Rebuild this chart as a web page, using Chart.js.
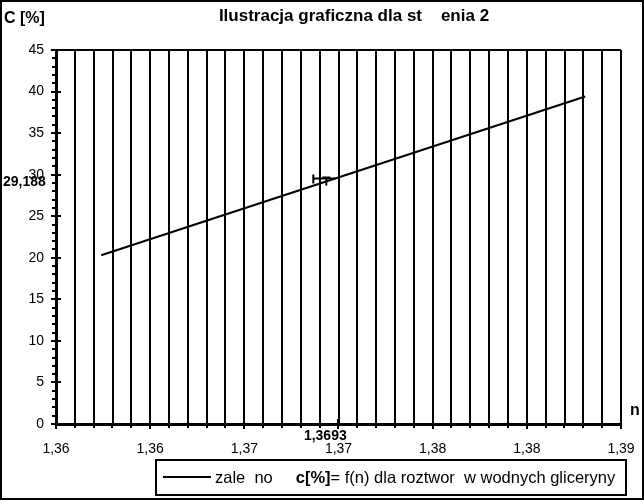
<!DOCTYPE html>
<html>
<head>
<meta charset="utf-8">
<script src="https://cdn.jsdelivr.net/npm/chart.js@4.4.0/dist/chart.umd.min.js"></script>
<style>
  body { margin: 0; background: #fff; }
  canvas { display: block; }
</style>
</head>
<body>
<canvas id="myChart" width="644" height="500"></canvas>
<script>
// dane
var nLine = [1.3574, 1.3831];
var cLine = [20.3, 39.4];
var markerN = [1.3693];
var markerC = [29.188];
var yTicks = [0, 5, 10, 15, 20, 25, 30, 35, 40, 45];
var titleText = 'Ilustracja graficzna dla st    enia 2';
var legendParts = [
	['zale  no     ', false],
	['c[%]', true],
	['= f(n) dla roztwor  w wodnych gliceryny', false]
];

var FONT = '"Liberation Sans", Arial, sans-serif';

function fmtN(v) {
	return (Math.round(v * 100 + 1e-6) / 100).toFixed(2).replace('.', ',');
}

// rysowanie dodatkow: tytul, osie, znaczniki, legenda
var extras = {
	id: 'extras',
	afterDraw: function(chart) {
		var ctx = chart.ctx;
		var x = chart.scales.x, y = chart.scales.y;
		var area = chart.chartArea;
		ctx.save();
		ctx.strokeStyle = '#000';
		ctx.fillStyle = '#000';

		// gorna ramka
		ctx.lineWidth = 2;
		ctx.beginPath();
		ctx.moveTo(area.left, area.top);
		ctx.lineTo(area.right, area.top);
		ctx.stroke();

		// znaczniki osi Y
		for (var v = 0; v <= 45; v++) {
			var py = Math.round(y.getPixelForValue(v));
			ctx.beginPath();
			if (v % 5 === 0) {
				ctx.moveTo(area.left - 5, py);
				ctx.lineTo(area.left + 5, py);
			} else {
				ctx.moveTo(area.left - 4, py);
				ctx.lineTo(area.left, py);
			}
			ctx.stroke();
		}
		// znaczniki osi X
		for (var i = 0; i <= 30; i++) {
			var px = Math.round(x.getPixelForValue(1.355 + i * 0.001));
			ctx.beginPath();
			if (i % 5 === 0) {
				ctx.moveTo(px, area.bottom - 5);
				ctx.lineTo(px, area.bottom + 5);
			} else {
				ctx.moveTo(px, area.bottom);
				ctx.lineTo(px, area.bottom + 4);
			}
			ctx.stroke();
		}

		// punkt (1,3693 ; 29,188)
		var mx = x.getPixelForValue(markerN[0]);
		var my = y.getPixelForValue(markerC[0]);
		ctx.beginPath();
		ctx.moveTo(mx - 12, my - 3); ctx.lineTo(mx + 10, my - 3);
		ctx.moveTo(mx - 12, my - 7); ctx.lineTo(mx - 12, my + 2);
		ctx.moveTo(mx - 3, my - 4); ctx.lineTo(mx + 5, my - 4);
		ctx.moveTo(mx + 1, my - 4); ctx.lineTo(mx + 1, my + 4);
		ctx.stroke();

		// etykiety punktu
		ctx.font = 'bold 14px ' + FONT;
		ctx.textBaseline = 'middle';
		ctx.textAlign = 'left';
		ctx.fillText(String(markerC[0]).replace('.', ','), 3, my + 1);
		ctx.textAlign = 'center';
		ctx.fillText(String(markerN[0]).replace('.', ','), mx, area.bottom + 12);

		// tytul i opisy osi
		ctx.font = 'bold 17px ' + FONT;
		ctx.textAlign = 'center';
		ctx.fillText(titleText, 354, 16);
		ctx.font = 'bold 16px ' + FONT;
		ctx.textAlign = 'left';
		ctx.fillText('C [%]', 4, 19);
		ctx.fillText('n', 630, 411);

		// legenda
		ctx.lineWidth = 2;
		ctx.strokeRect(156, 460, 470, 35);
		ctx.beginPath();
		ctx.moveTo(163, 477); ctx.lineTo(211, 477);
		ctx.stroke();
		var tx = 215;
		ctx.textAlign = 'left';
		legendParts.forEach(function(p) {
			ctx.font = (p[1] ? 'bold ' : '') + '16.5px ' + FONT;
			ctx.fillText(p[0], tx, 478);
			tx += ctx.measureText(p[0]).width;
		});

		// ramka calego wykresu
		ctx.lineWidth = 2;
		ctx.strokeRect(1, 1, 642, 498);
		ctx.restore();
	}
};

var ctx = document.getElementById('myChart').getContext('2d');

var chart = new Chart(ctx, {
	type: 'scatter',
	data: {
		datasets: [{
			label: 'c = f(n)',
			data: nLine.map(function(n, i) { return { x: n, y: cLine[i] }; }),
			showLine: true,
			borderColor: '#000',
			borderWidth: 2,
			pointRadius: 0,
			fill: false
		}]
	},
	options: {
		responsive: false,
		animation: false,
		layout: { padding: { left: 0, top: 50, right: 23, bottom: 40 } },
		plugins: {
			legend: { display: false },
			title: { display: false },
			tooltip: { enabled: false }
		},
		scales: {
			x: {
				type: 'linear',
				min: 1.355,
				max: 1.385,
				afterFit: function(scale) {
					scale.height = 36;
					scale.paddingLeft = 0;
					scale.paddingRight = 0;
				},
				ticks: {
					stepSize: 0.001,
					autoSkip: false,
					maxRotation: 0,
					padding: 17,
					color: '#000',
					font: { family: FONT, size: 14 },
					callback: function(v, i) { return i % 5 === 0 ? fmtN(v) : ''; }
				},
				grid: { color: '#000', lineWidth: 2, drawTicks: false },
				border: { color: '#000', width: 3 }
			},
			y: {
				min: 0,
				max: 45,
				afterFit: function(scale) { scale.width = 56; },
				afterBuildTicks: function(scale) {
					scale.ticks = yTicks.map(function(v) { return { value: v }; });
				},
				ticks: {
					padding: 12,
					color: '#000',
					font: { family: FONT, size: 14 }
				},
				grid: { display: false, drawTicks: false },
				border: { color: '#000', width: 3 }
			}
		}
	},
	plugins: [extras]
});
</script>
</body>
</html>
